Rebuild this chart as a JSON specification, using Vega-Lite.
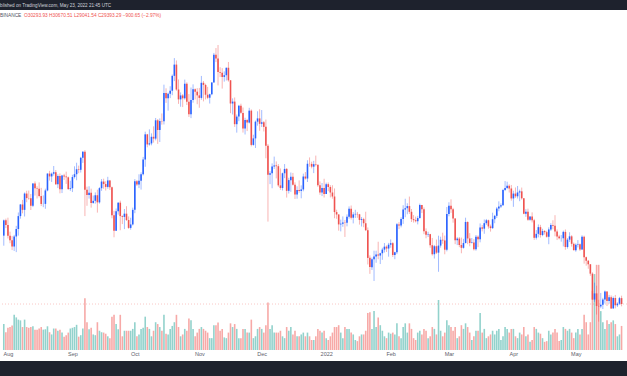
{
"$schema": "https://vega.github.io/schema/vega-lite/v6.json",
"width": 627, "height": 351,
"autosize": {"type": "none"},
"padding": {"left": 0, "right": 0, "top": 10, "bottom": 15},
"background": "#1e222d",
"config": {"view": {"fill": "#ffffff", "stroke": null}, "font": "Liberation Sans"},
"title": {"text": "Published on TradingView.com, May 23, 2022 21:45 UTC", "anchor": "start", "frame": "group", "orient": "top", "offset": 2.5, "fontSize": 4.6, "font": "Liberation Sans", "fontWeight": "normal", "color": "#d1d4dc", "dx": -5.5},
"datasets": {"label": [{"exchange": "BINANCE", "quote": "O30293.93  H30670.51  L29041.54  C29393.29  −900.65 (−2.97%)", "last": 29393.29}]},
"data": {"values": [
{"d":"2021-07-30","o":39850,"h":42320,"l":38313,"c":42191,"v":70},
{"d":"2021-07-31","o":42191,"h":42448,"l":41000,"c":41461,"v":48},
{"d":"2021-08-01","o":41461,"h":42599,"l":39422,"c":39845,"v":60},
{"d":"2021-08-02","o":39845,"h":40459,"l":38690,"c":39147,"v":62},
{"d":"2021-08-03","o":39147,"h":39780,"l":37642,"c":38207,"v":66},
{"d":"2021-08-04","o":38207,"h":39969,"l":37508,"c":39723,"v":95},
{"d":"2021-08-05","o":39723,"h":41350,"l":37332,"c":40862,"v":88},
{"d":"2021-08-06","o":40862,"h":43392,"l":39853,"c":42836,"v":82},
{"d":"2021-08-07","o":42836,"h":44700,"l":42446,"c":44614,"v":80},
{"d":"2021-08-08","o":44614,"h":45310,"l":43261,"c":43792,"v":62},
{"d":"2021-08-09","o":43792,"h":46454,"l":42779,"c":46285,"v":82},
{"d":"2021-08-10","o":46285,"h":46718,"l":44961,"c":45593,"v":62},
{"d":"2021-08-11","o":45593,"h":46743,"l":45341,"c":45551,"v":60},
{"d":"2021-08-12","o":45551,"h":46218,"l":43770,"c":44429,"v":62},
{"d":"2021-08-13","o":44429,"h":47887,"l":44217,"c":47833,"v":64},
{"d":"2021-08-14","o":47833,"h":48144,"l":45971,"c":47109,"v":55},
{"d":"2021-08-15","o":47109,"h":47400,"l":45525,"c":47015,"v":55},
{"d":"2021-08-16","o":47015,"h":47997,"l":45700,"c":45902,"v":58},
{"d":"2021-08-17","o":45902,"h":47160,"l":44376,"c":44695,"v":62},
{"d":"2021-08-18","o":44695,"h":46000,"l":44203,"c":44705,"v":55},
{"d":"2021-08-19","o":44705,"h":47033,"l":43955,"c":46760,"v":56},
{"d":"2021-08-20","o":46760,"h":49382,"l":46630,"c":49339,"v":64},
{"d":"2021-08-21","o":49339,"h":49757,"l":48273,"c":48905,"v":48},
{"d":"2021-08-22","o":48905,"h":49500,"l":48064,"c":49321,"v":42},
{"d":"2021-08-23","o":49321,"h":50500,"l":49029,"c":49546,"v":58},
{"d":"2021-08-24","o":49546,"h":49875,"l":47600,"c":47706,"v":58},
{"d":"2021-08-25","o":47706,"h":49229,"l":47119,"c":48960,"v":52},
{"d":"2021-08-26","o":48960,"h":49368,"l":46315,"c":46942,"v":55},
{"d":"2021-08-27","o":46942,"h":49149,"l":46361,"c":49058,"v":47},
{"d":"2021-08-28","o":49058,"h":49309,"l":48370,"c":48897,"v":36},
{"d":"2021-08-29","o":48897,"h":49632,"l":47762,"c":48767,"v":40},
{"d":"2021-08-30","o":48767,"h":48888,"l":46853,"c":46970,"v":47},
{"d":"2021-08-31","o":46970,"h":48246,"l":46700,"c":47100,"v":58},
{"d":"2021-09-01","o":47100,"h":49156,"l":46512,"c":48810,"v":60},
{"d":"2021-09-02","o":48810,"h":50450,"l":48584,"c":49246,"v":62},
{"d":"2021-09-03","o":49246,"h":51000,"l":48316,"c":49999,"v":68},
{"d":"2021-09-04","o":49999,"h":50558,"l":49400,"c":49915,"v":36},
{"d":"2021-09-05","o":49915,"h":51900,"l":49500,"c":51756,"v":40},
{"d":"2021-09-06","o":51756,"h":52780,"l":50969,"c":52663,"v":58},
{"d":"2021-09-07","o":52666,"h":52920,"l":42843,"c":46864,"v":140},
{"d":"2021-09-08","o":46868,"h":47340,"l":44412,"c":46049,"v":75},
{"d":"2021-09-09","o":46048,"h":47399,"l":45513,"c":46395,"v":56},
{"d":"2021-09-10","o":46396,"h":47033,"l":44132,"c":44851,"v":60},
{"d":"2021-09-11","o":44851,"h":45985,"l":44722,"c":45173,"v":42},
{"d":"2021-09-12","o":45173,"h":46460,"l":44742,"c":46026,"v":40},
{"d":"2021-09-13","o":46026,"h":46876,"l":43370,"c":44940,"v":75},
{"d":"2021-09-14","o":44940,"h":47250,"l":44750,"c":47111,"v":52},
{"d":"2021-09-15","o":47103,"h":48500,"l":46700,"c":48121,"v":48},
{"d":"2021-09-16","o":48121,"h":48557,"l":47021,"c":47737,"v":47},
{"d":"2021-09-17","o":47737,"h":48170,"l":46750,"c":47299,"v":44},
{"d":"2021-09-18","o":47299,"h":48843,"l":47029,"c":48292,"v":37},
{"d":"2021-09-19","o":48292,"h":48372,"l":46830,"c":47241,"v":32},
{"d":"2021-09-20","o":47242,"h":47347,"l":42500,"c":42968,"v":90},
{"d":"2021-09-21","o":42968,"h":43639,"l":39600,"c":40588,"v":95},
{"d":"2021-09-22","o":40590,"h":44000,"l":40565,"c":43575,"v":70},
{"d":"2021-09-23","o":43575,"h":44978,"l":43063,"c":44895,"v":56},
{"d":"2021-09-24","o":44895,"h":45200,"l":40675,"c":42839,"v":95},
{"d":"2021-09-25","o":42839,"h":42963,"l":41616,"c":42716,"v":37},
{"d":"2021-09-26","o":42716,"h":43919,"l":40848,"c":43208,"v":52},
{"d":"2021-09-27","o":43208,"h":44350,"l":42098,"c":42235,"v":52},
{"d":"2021-09-28","o":42236,"h":42787,"l":40888,"c":41034,"v":52},
{"d":"2021-09-29","o":41034,"h":42590,"l":40753,"c":41564,"v":52},
{"d":"2021-09-30","o":41564,"h":44132,"l":41410,"c":43790,"v":57},
{"d":"2021-10-01","o":43790,"h":48495,"l":43283,"c":48165,"v":75},
{"d":"2021-10-02","o":48166,"h":48359,"l":47438,"c":47657,"v":37},
{"d":"2021-10-03","o":47657,"h":49228,"l":47120,"c":48233,"v":42},
{"d":"2021-10-04","o":48233,"h":49529,"l":46891,"c":49245,"v":57},
{"d":"2021-10-05","o":49245,"h":51886,"l":49052,"c":51493,"v":60},
{"d":"2021-10-06","o":51493,"h":55750,"l":50382,"c":55339,"v":90},
{"d":"2021-10-07","o":55339,"h":55400,"l":53357,"c":53797,"v":62},
{"d":"2021-10-08","o":53797,"h":56100,"l":53617,"c":53963,"v":57},
{"d":"2021-10-09","o":53955,"h":55489,"l":53661,"c":54963,"v":37},
{"d":"2021-10-10","o":54964,"h":56561,"l":54080,"c":54691,"v":52},
{"d":"2021-10-11","o":54691,"h":57839,"l":54416,"c":57485,"v":75},
{"d":"2021-10-12","o":57485,"h":57680,"l":53879,"c":56006,"v":70},
{"d":"2021-10-13","o":56006,"h":57777,"l":54167,"c":57372,"v":62},
{"d":"2021-10-14","o":57372,"h":58532,"l":56818,"c":57347,"v":52},
{"d":"2021-10-15","o":57347,"h":62933,"l":56850,"c":61672,"v":95},
{"d":"2021-10-16","o":61672,"h":62378,"l":60150,"c":60875,"v":44},
{"d":"2021-10-17","o":60875,"h":61718,"l":58963,"c":61528,"v":42},
{"d":"2021-10-18","o":61528,"h":62695,"l":60880,"c":62010,"v":57},
{"d":"2021-10-19","o":62006,"h":64486,"l":61322,"c":64280,"v":65},
{"d":"2021-10-20","o":64280,"h":67000,"l":63481,"c":66001,"v":75},
{"d":"2021-10-21","o":66001,"h":66639,"l":62000,"c":62193,"v":95},
{"d":"2021-10-22","o":62193,"h":63732,"l":60000,"c":60688,"v":62},
{"d":"2021-10-23","o":60688,"h":61747,"l":59562,"c":61286,"v":37},
{"d":"2021-10-24","o":61286,"h":61500,"l":59510,"c":60852,"v":42},
{"d":"2021-10-25","o":60853,"h":63710,"l":60650,"c":63078,"v":57},
{"d":"2021-10-26","o":63078,"h":63293,"l":59817,"c":60328,"v":52},
{"d":"2021-10-27","o":60328,"h":61496,"l":58000,"c":58413,"v":85},
{"d":"2021-10-28","o":58413,"h":62499,"l":57820,"c":60575,"v":80},
{"d":"2021-10-29","o":60575,"h":62980,"l":60174,"c":62253,"v":57},
{"d":"2021-10-30","o":62253,"h":62359,"l":60673,"c":61859,"v":37},
{"d":"2021-10-31","o":61860,"h":62405,"l":59945,"c":61300,"v":47},
{"d":"2021-11-01","o":61300,"h":62437,"l":59405,"c":60911,"v":57},
{"d":"2021-11-02","o":60911,"h":64270,"l":60624,"c":63219,"v":62},
{"d":"2021-11-03","o":63220,"h":63500,"l":60382,"c":62896,"v":57},
{"d":"2021-11-04","o":62897,"h":63086,"l":60677,"c":61395,"v":52},
{"d":"2021-11-05","o":61396,"h":62600,"l":60721,"c":60937,"v":47},
{"d":"2021-11-06","o":60941,"h":61560,"l":60050,"c":61470,"v":32},
{"d":"2021-11-07","o":61471,"h":63286,"l":61322,"c":63273,"v":32},
{"d":"2021-11-08","o":63274,"h":67789,"l":63273,"c":67525,"v":67},
{"d":"2021-11-09","o":67526,"h":68530,"l":66382,"c":66947,"v":67},
{"d":"2021-11-10","o":66946,"h":69000,"l":62822,"c":64882,"v":74},
{"d":"2021-11-11","o":64883,"h":65600,"l":64100,"c":64774,"v":52},
{"d":"2021-11-12","o":64774,"h":65460,"l":62333,"c":64122,"v":57},
{"d":"2021-11-13","o":64122,"h":64972,"l":63400,"c":64380,"v":34},
{"d":"2021-11-14","o":64380,"h":65550,"l":63576,"c":65519,"v":32},
{"d":"2021-11-15","o":65520,"h":66401,"l":63400,"c":63606,"v":47},
{"d":"2021-11-16","o":63606,"h":63617,"l":58574,"c":60058,"v":72},
{"d":"2021-11-17","o":60059,"h":60840,"l":58373,"c":60344,"v":62},
{"d":"2021-11-18","o":60345,"h":60977,"l":56474,"c":56891,"v":70},
{"d":"2021-11-19","o":56891,"h":58373,"l":55600,"c":58052,"v":57},
{"d":"2021-11-20","o":58057,"h":59845,"l":57353,"c":59707,"v":32},
{"d":"2021-11-21","o":59707,"h":60029,"l":58486,"c":58622,"v":32},
{"d":"2021-11-22","o":58617,"h":59444,"l":55610,"c":56247,"v":57},
{"d":"2021-11-23","o":56247,"h":57875,"l":55317,"c":57541,"v":57},
{"d":"2021-11-24","o":57541,"h":57700,"l":55837,"c":57138,"v":47},
{"d":"2021-11-25","o":57138,"h":59398,"l":57000,"c":58960,"v":47},
{"d":"2021-11-26","o":58961,"h":59150,"l":53500,"c":53726,"v":82},
{"d":"2021-11-27","o":53724,"h":55281,"l":53610,"c":54721,"v":32},
{"d":"2021-11-28","o":54722,"h":57445,"l":53256,"c":57274,"v":37},
{"d":"2021-11-29","o":57275,"h":58865,"l":56666,"c":57776,"v":57},
{"d":"2021-11-30","o":57776,"h":59176,"l":55875,"c":56950,"v":62},
{"d":"2021-12-01","o":56951,"h":59053,"l":56458,"c":57184,"v":57},
{"d":"2021-12-02","o":57185,"h":57374,"l":55777,"c":56480,"v":47},
{"d":"2021-12-03","o":56484,"h":57600,"l":51680,"c":53601,"v":67},
{"d":"2021-12-04","o":53602,"h":53859,"l":42000,"c":49152,"v":128},
{"d":"2021-12-05","o":49153,"h":49699,"l":47727,"c":49397,"v":57},
{"d":"2021-12-06","o":49397,"h":50891,"l":47100,"c":50441,"v":67},
{"d":"2021-12-07","o":50441,"h":51936,"l":50039,"c":50589,"v":47},
{"d":"2021-12-08","o":50589,"h":51200,"l":48600,"c":50471,"v":47},
{"d":"2021-12-09","o":50471,"h":50797,"l":47320,"c":47545,"v":47},
{"d":"2021-12-10","o":47535,"h":50125,"l":46852,"c":47140,"v":52},
{"d":"2021-12-11","o":47140,"h":49485,"l":46751,"c":49390,"v":37},
{"d":"2021-12-12","o":49390,"h":50797,"l":48638,"c":50053,"v":32},
{"d":"2021-12-13","o":50053,"h":50189,"l":45672,"c":46702,"v":62},
{"d":"2021-12-14","o":46702,"h":48700,"l":46290,"c":48343,"v":52},
{"d":"2021-12-15","o":48336,"h":49500,"l":46547,"c":48864,"v":62},
{"d":"2021-12-16","o":48864,"h":49436,"l":47511,"c":47632,"v":42},
{"d":"2021-12-17","o":47632,"h":47995,"l":45456,"c":46131,"v":52},
{"d":"2021-12-18","o":46133,"h":47392,"l":45500,"c":46834,"v":37},
{"d":"2021-12-19","o":46834,"h":48300,"l":46406,"c":46681,"v":37},
{"d":"2021-12-20","o":46682,"h":47537,"l":45558,"c":46914,"v":42},
{"d":"2021-12-21","o":46914,"h":49328,"l":46631,"c":48889,"v":47},
{"d":"2021-12-22","o":48887,"h":49576,"l":48421,"c":48588,"v":37},
{"d":"2021-12-23","o":48588,"h":51375,"l":48050,"c":50838,"v":47},
{"d":"2021-12-24","o":50838,"h":51810,"l":50384,"c":50820,"v":37},
{"d":"2021-12-25","o":50819,"h":51156,"l":50142,"c":50400,"v":27},
{"d":"2021-12-26","o":50399,"h":51280,"l":49412,"c":50775,"v":27},
{"d":"2021-12-27","o":50775,"h":52088,"l":50449,"c":50701,"v":37},
{"d":"2021-12-28","o":50701,"h":50704,"l":47313,"c":47543,"v":57},
{"d":"2021-12-29","o":47544,"h":48139,"l":46096,"c":46464,"v":52},
{"d":"2021-12-30","o":46464,"h":47900,"l":45900,"c":47120,"v":47},
{"d":"2021-12-31","o":47120,"h":48548,"l":45678,"c":46216,"v":52},
{"d":"2022-01-01","o":46216,"h":47954,"l":46208,"c":47722,"v":32},
{"d":"2022-01-02","o":47722,"h":47990,"l":46654,"c":47286,"v":27},
{"d":"2022-01-03","o":47286,"h":47570,"l":45696,"c":46446,"v":37},
{"d":"2022-01-04","o":46446,"h":47557,"l":45500,"c":45832,"v":47},
{"d":"2022-01-05","o":45832,"h":47070,"l":42500,"c":43451,"v":62},
{"d":"2022-01-06","o":43451,"h":43816,"l":42430,"c":43082,"v":62},
{"d":"2022-01-07","o":43082,"h":43145,"l":40610,"c":41566,"v":67},
{"d":"2022-01-08","o":41566,"h":42300,"l":40501,"c":41679,"v":47},
{"d":"2022-01-09","o":41679,"h":42786,"l":41200,"c":41864,"v":32},
{"d":"2022-01-10","o":41864,"h":42249,"l":39650,"c":41822,"v":62},
{"d":"2022-01-11","o":41822,"h":43100,"l":41268,"c":42736,"v":57},
{"d":"2022-01-12","o":42735,"h":44322,"l":42450,"c":43949,"v":57},
{"d":"2022-01-13","o":43949,"h":44459,"l":42311,"c":42591,"v":47},
{"d":"2022-01-14","o":42592,"h":43448,"l":41725,"c":43099,"v":42},
{"d":"2022-01-15","o":43099,"h":43800,"l":42555,"c":43177,"v":27},
{"d":"2022-01-16","o":43177,"h":43478,"l":42581,"c":43113,"v":24},
{"d":"2022-01-17","o":43113,"h":43176,"l":41540,"c":42250,"v":37},
{"d":"2022-01-18","o":42250,"h":42691,"l":41250,"c":42375,"v":42},
{"d":"2022-01-19","o":42375,"h":42576,"l":41138,"c":41744,"v":42},
{"d":"2022-01-20","o":41744,"h":43505,"l":40553,"c":40680,"v":52},
{"d":"2022-01-21","o":40680,"h":41100,"l":35440,"c":36445,"v":100},
{"d":"2022-01-22","o":36471,"h":36835,"l":34008,"c":35071,"v":102},
{"d":"2022-01-23","o":35031,"h":36499,"l":34601,"c":36244,"v":57},
{"d":"2022-01-24","o":36225,"h":37550,"l":32917,"c":36660,"v":105},
{"d":"2022-01-25","o":36660,"h":37545,"l":35701,"c":36958,"v":62},
{"d":"2022-01-26","o":36958,"h":38919,"l":36234,"c":36810,"v":88},
{"d":"2022-01-27","o":36807,"h":37234,"l":35507,"c":37160,"v":67},
{"d":"2022-01-28","o":37160,"h":38000,"l":36155,"c":37716,"v":52},
{"d":"2022-01-29","o":37716,"h":38720,"l":37268,"c":38166,"v":37},
{"d":"2022-01-30","o":38166,"h":38359,"l":37351,"c":37881,"v":32},
{"d":"2022-01-31","o":37881,"h":38744,"l":36632,"c":38466,"v":47},
{"d":"2022-02-01","o":38466,"h":39265,"l":38000,"c":38694,"v":44},
{"d":"2022-02-02","o":38694,"h":38855,"l":36586,"c":36896,"v":47},
{"d":"2022-02-03","o":36896,"h":37387,"l":36250,"c":37311,"v":42},
{"d":"2022-02-04","o":37311,"h":41772,"l":37026,"c":41574,"v":72},
{"d":"2022-02-05","o":41571,"h":41913,"l":40843,"c":41382,"v":37},
{"d":"2022-02-06","o":41382,"h":42656,"l":41116,"c":42380,"v":32},
{"d":"2022-02-07","o":42380,"h":44500,"l":41645,"c":43840,"v":62},
{"d":"2022-02-08","o":43839,"h":45492,"l":42666,"c":44043,"v":72},
{"d":"2022-02-09","o":44043,"h":44799,"l":43117,"c":44372,"v":47},
{"d":"2022-02-10","o":44372,"h":45821,"l":43174,"c":43495,"v":72},
{"d":"2022-02-11","o":43495,"h":43920,"l":41938,"c":42373,"v":57},
{"d":"2022-02-12","o":42373,"h":42992,"l":41852,"c":42217,"v":32},
{"d":"2022-02-13","o":42217,"h":42760,"l":41870,"c":42053,"v":27},
{"d":"2022-02-14","o":42054,"h":42876,"l":41571,"c":42535,"v":47},
{"d":"2022-02-15","o":42535,"h":44751,"l":42427,"c":44544,"v":52},
{"d":"2022-02-16","o":44544,"h":44549,"l":43307,"c":43873,"v":42},
{"d":"2022-02-17","o":43874,"h":44164,"l":40073,"c":40515,"v":57},
{"d":"2022-02-18","o":40516,"h":40959,"l":39450,"c":39974,"v":52},
{"d":"2022-02-19","o":39974,"h":40444,"l":39639,"c":40080,"v":32},
{"d":"2022-02-20","o":40080,"h":40125,"l":38000,"c":38386,"v":37},
{"d":"2022-02-21","o":38386,"h":39494,"l":36800,"c":37008,"v":62},
{"d":"2022-02-22","o":37008,"h":38429,"l":36350,"c":38230,"v":57},
{"d":"2022-02-23","o":38230,"h":39249,"l":37036,"c":37250,"v":42},
{"d":"2022-02-24","o":37250,"h":39843,"l":34322,"c":38328,"v":135},
{"d":"2022-02-25","o":38328,"h":39683,"l":38014,"c":39219,"v":52},
{"d":"2022-02-26","o":39219,"h":40300,"l":38600,"c":39116,"v":37},
{"d":"2022-02-27","o":39116,"h":39855,"l":37000,"c":37699,"v":47},
{"d":"2022-02-28","o":37699,"h":44225,"l":37450,"c":43160,"v":80},
{"d":"2022-03-01","o":43160,"h":44949,"l":42809,"c":44421,"v":67},
{"d":"2022-03-02","o":44421,"h":45400,"l":43334,"c":43892,"v":62},
{"d":"2022-03-03","o":43892,"h":44101,"l":41832,"c":42454,"v":52},
{"d":"2022-03-04","o":42454,"h":42527,"l":38550,"c":39137,"v":62},
{"d":"2022-03-05","o":39148,"h":39613,"l":38407,"c":39400,"v":32},
{"d":"2022-03-06","o":39404,"h":39640,"l":38088,"c":38420,"v":37},
{"d":"2022-03-07","o":38420,"h":39547,"l":37155,"c":37988,"v":67},
{"d":"2022-03-08","o":37988,"h":39362,"l":37867,"c":38730,"v":57},
{"d":"2022-03-09","o":38730,"h":42594,"l":38657,"c":41942,"v":72},
{"d":"2022-03-10","o":41941,"h":42039,"l":38539,"c":39422,"v":62},
{"d":"2022-03-11","o":39422,"h":40236,"l":38223,"c":38730,"v":47},
{"d":"2022-03-12","o":38729,"h":39486,"l":38660,"c":38807,"v":27},
{"d":"2022-03-13","o":38807,"h":39310,"l":37578,"c":37777,"v":37},
{"d":"2022-03-14","o":37777,"h":39947,"l":37555,"c":39671,"v":52},
{"d":"2022-03-15","o":39671,"h":39887,"l":38098,"c":39281,"v":52},
{"d":"2022-03-16","o":39280,"h":41718,"l":38828,"c":41114,"v":100},
{"d":"2022-03-17","o":41114,"h":41478,"l":40500,"c":40917,"v":47},
{"d":"2022-03-18","o":40917,"h":42325,"l":40135,"c":41757,"v":57},
{"d":"2022-03-19","o":41757,"h":42400,"l":41499,"c":42201,"v":32},
{"d":"2022-03-20","o":42201,"h":42296,"l":40911,"c":41262,"v":37},
{"d":"2022-03-21","o":41262,"h":41544,"l":40467,"c":41002,"v":42},
{"d":"2022-03-22","o":41002,"h":43361,"l":40875,"c":42364,"v":52},
{"d":"2022-03-23","o":42364,"h":43025,"l":41751,"c":42882,"v":42},
{"d":"2022-03-24","o":42882,"h":44220,"l":42560,"c":43991,"v":52},
{"d":"2022-03-25","o":43991,"h":45094,"l":43579,"c":44313,"v":57},
{"d":"2022-03-26","o":44313,"h":44792,"l":44071,"c":44511,"v":27},
{"d":"2022-03-27","o":44511,"h":46999,"l":44422,"c":46827,"v":37},
{"d":"2022-03-28","o":46827,"h":48189,"l":46663,"c":47128,"v":62},
{"d":"2022-03-29","o":47128,"h":48096,"l":46950,"c":47465,"v":57},
{"d":"2022-03-30","o":47465,"h":47700,"l":46445,"c":47062,"v":47},
{"d":"2022-03-31","o":47062,"h":47600,"l":45200,"c":45538,"v":57},
{"d":"2022-04-01","o":45538,"h":46720,"l":44255,"c":46281,"v":57},
{"d":"2022-04-02","o":46281,"h":47213,"l":45620,"c":45868,"v":37},
{"d":"2022-04-03","o":45868,"h":47444,"l":45530,"c":46453,"v":32},
{"d":"2022-04-04","o":46453,"h":46890,"l":45118,"c":46622,"v":47},
{"d":"2022-04-05","o":46622,"h":47200,"l":45353,"c":45555,"v":42},
{"d":"2022-04-06","o":45555,"h":45555,"l":43121,"c":43206,"v":62},
{"d":"2022-04-07","o":43206,"h":43900,"l":42727,"c":43503,"v":37},
{"d":"2022-04-08","o":43503,"h":43970,"l":42107,"c":42287,"v":42},
{"d":"2022-04-09","o":42287,"h":42800,"l":42125,"c":42783,"v":22},
{"d":"2022-04-10","o":42782,"h":43410,"l":41868,"c":42207,"v":27},
{"d":"2022-04-11","o":42201,"h":42415,"l":39200,"c":39521,"v":62},
{"d":"2022-04-12","o":39521,"h":40699,"l":39254,"c":40127,"v":57},
{"d":"2022-04-13","o":40127,"h":41561,"l":39588,"c":41148,"v":47},
{"d":"2022-04-14","o":41147,"h":41500,"l":39551,"c":39942,"v":44},
{"d":"2022-04-15","o":39942,"h":40900,"l":39766,"c":40551,"v":32},
{"d":"2022-04-16","o":40552,"h":40709,"l":40019,"c":40378,"v":22},
{"d":"2022-04-17","o":40378,"h":40595,"l":39546,"c":39678,"v":24},
{"d":"2022-04-18","o":39678,"h":41116,"l":38536,"c":40801,"v":52},
{"d":"2022-04-19","o":40801,"h":41760,"l":40571,"c":41493,"v":42},
{"d":"2022-04-20","o":41494,"h":42199,"l":40820,"c":41358,"v":47},
{"d":"2022-04-21","o":41372,"h":42976,"l":39751,"c":40480,"v":57},
{"d":"2022-04-22","o":40481,"h":40795,"l":39177,"c":39709,"v":47},
{"d":"2022-04-23","o":39710,"h":39980,"l":39285,"c":39441,"v":24},
{"d":"2022-04-24","o":39441,"h":39940,"l":38929,"c":39450,"v":27},
{"d":"2022-04-25","o":39450,"h":40616,"l":38200,"c":40426,"v":62},
{"d":"2022-04-26","o":40427,"h":40797,"l":37702,"c":38112,"v":57},
{"d":"2022-04-27","o":38112,"h":39474,"l":37867,"c":39235,"v":52},
{"d":"2022-04-28","o":39236,"h":40372,"l":38881,"c":39742,"v":57},
{"d":"2022-04-29","o":39742,"h":39925,"l":38175,"c":38596,"v":47},
{"d":"2022-04-30","o":38597,"h":38795,"l":37578,"c":37630,"v":32},
{"d":"2022-05-01","o":37630,"h":38675,"l":37386,"c":38468,"v":47},
{"d":"2022-05-02","o":38469,"h":39167,"l":38053,"c":38529,"v":57},
{"d":"2022-05-03","o":38529,"h":38653,"l":37517,"c":37750,"v":42},
{"d":"2022-05-04","o":37749,"h":39902,"l":37670,"c":39695,"v":57},
{"d":"2022-05-05","o":39695,"h":39845,"l":35571,"c":36552,"v":95},
{"d":"2022-05-06","o":36553,"h":36650,"l":35258,"c":36013,"v":75},
{"d":"2022-05-07","o":36013,"h":36133,"l":34785,"c":35472,"v":42},
{"d":"2022-05-08","o":35472,"h":35510,"l":33714,"c":34039,"v":75},
{"d":"2022-05-09","o":34039,"h":34243,"l":30034,"c":30076,"v":160},
{"d":"2022-05-10","o":30075,"h":32658,"l":29731,"c":31017,"v":205},
{"d":"2022-05-11","o":31017,"h":32191,"l":27785,"c":29103,"v":230},
{"d":"2022-05-12","o":29103,"h":30033,"l":26700,"c":29030,"v":230},
{"d":"2022-05-13","o":29030,"h":31083,"l":28751,"c":29287,"v":105},
{"d":"2022-05-14","o":29287,"h":30343,"l":28630,"c":30086,"v":75},
{"d":"2022-05-15","o":30086,"h":31460,"l":29480,"c":31328,"v":57},
{"d":"2022-05-16","o":31328,"h":31328,"l":29087,"c":29875,"v":80},
{"d":"2022-05-17","o":29874,"h":30788,"l":29450,"c":30444,"v":70},
{"d":"2022-05-18","o":30444,"h":30709,"l":28654,"c":28715,"v":75},
{"d":"2022-05-19","o":28715,"h":30545,"l":28693,"c":30319,"v":80},
{"d":"2022-05-20","o":30319,"h":30777,"l":28730,"c":29201,"v":70},
{"d":"2022-05-21","o":29201,"h":29656,"l":28947,"c":29445,"v":37},
{"d":"2022-05-22","o":29445,"h":30487,"l":29255,"c":30293,"v":42},
{"d":"2022-05-23","o":30293.93,"h":30670.51,"l":29041.54,"c":29393.29,"v":65}
]},
"layer": [
{"mark": {"type": "bar", "width": 1.6},
 "encoding": {
  "x": {"field": "d", "type": "temporal", "scale": {"type": "utc", "domain": [{"year": 2021, "month": 7, "date": 30, "hours": 14, "utc": true}, {"year": 2022, "month": 5, "date": 23, "hours": 5, "utc": true}]},
   "axis": {"title": null, "orient": "bottom", "offset": -11, "domain": false, "ticks": false, "grid": false, "labelPadding": 1.5, "labelFontSize": 5.5, "labelFont": "Liberation Sans", "labelColor": "#5d606b", "labelFlush": false, "labelOverlap": false, "labelBaseline": "top",
    "values": [{"year": 2021, "month": 8, "date": 1, "utc": true}, {"year": 2021, "month": 9, "date": 1, "utc": true}, {"year": 2021, "month": 10, "date": 1, "utc": true}, {"year": 2021, "month": 11, "date": 1, "utc": true}, {"year": 2021, "month": 12, "date": 1, "utc": true}, {"year": 2022, "month": 1, "date": 1, "utc": true}, {"year": 2022, "month": 2, "date": 1, "utc": true}, {"year": 2022, "month": 3, "date": 1, "utc": true}, {"year": 2022, "month": 4, "date": 1, "utc": true}, {"year": 2022, "month": 5, "date": 1, "utc": true}],
    "labelExpr": "utcmonth(datum.value) == 0 ? utcFormat(datum.value, '%Y') : utcFormat(datum.value, '%b')"}},
  "y": {"field": "v", "type": "quantitative", "scale": {"domain": [-29.7, 918], "nice": false, "zero": false}, "axis": null},
  "y2": {"datum": 0},
  "color": {"condition": {"test": "datum.c >= datum.o", "value": "#92d2cc"}, "value": "#f7a9a7"}
 }},
{"layer": [
  {"data": {"name": "label"},
   "mark": {"type": "rule", "color": "#ef5350", "strokeWidth": 0.6, "strokeDash": [1, 2], "opacity": 0.55},
   "encoding": {"y": {"field": "last", "type": "quantitative", "scale": {"domain": [20682, 74352], "nice": false, "zero": false}, "axis": null}}},
  {"mark": {"type": "rule", "strokeWidth": 0.8, "opacity": 0.55},
   "encoding": {
    "x": {"field": "d", "type": "temporal", "scale": {"type": "utc", "domain": [{"year": 2021, "month": 7, "date": 30, "hours": 14, "utc": true}, {"year": 2022, "month": 5, "date": 23, "hours": 5, "utc": true}]}},
    "y": {"field": "l", "type": "quantitative", "scale": {"domain": [20682, 74352], "nice": false, "zero": false}, "axis": null},
    "y2": {"field": "h"},
    "color": {"condition": {"test": "datum.c >= datum.o", "value": "#2962ff"}, "value": "#ef5350"}
   }},
  {"mark": {"type": "rule", "strokeWidth": 1.6},
   "encoding": {
    "x": {"field": "d", "type": "temporal", "scale": {"type": "utc", "domain": [{"year": 2021, "month": 7, "date": 30, "hours": 14, "utc": true}, {"year": 2022, "month": 5, "date": 23, "hours": 5, "utc": true}]}},
    "y": {"field": "o", "type": "quantitative", "scale": {"domain": [20682, 74352], "nice": false, "zero": false}, "axis": null},
    "y2": {"field": "c"},
    "color": {"condition": {"test": "datum.c >= datum.o", "value": "#2962ff"}, "value": "#ef5350"}
   }},
  {"data": {"name": "label"},
   "mark": {"type": "text", "align": "left", "baseline": "middle", "dx": -5, "fontSize": 4.8, "font": "Liberation Sans", "color": "#50535e"},
   "encoding": {"x": {"datum": {"year": 2021, "month": 7, "date": 30, "hours": 14, "utc": true}, "type": "temporal"}, "y": {"datum": 73510, "type": "quantitative"}, "text": {"field": "exchange"}}},
  {"data": {"name": "label"},
   "mark": {"type": "text", "align": "left", "baseline": "middle", "dx": 19, "fontSize": 4.8, "font": "Liberation Sans", "color": "#ef5350"},
   "encoding": {"x": {"datum": {"year": 2021, "month": 7, "date": 30, "hours": 14, "utc": true}, "type": "temporal"}, "y": {"datum": 73510, "type": "quantitative"}, "text": {"field": "quote"}}}
 ]}
],
"resolve": {"scale": {"y": "independent"}}
}
